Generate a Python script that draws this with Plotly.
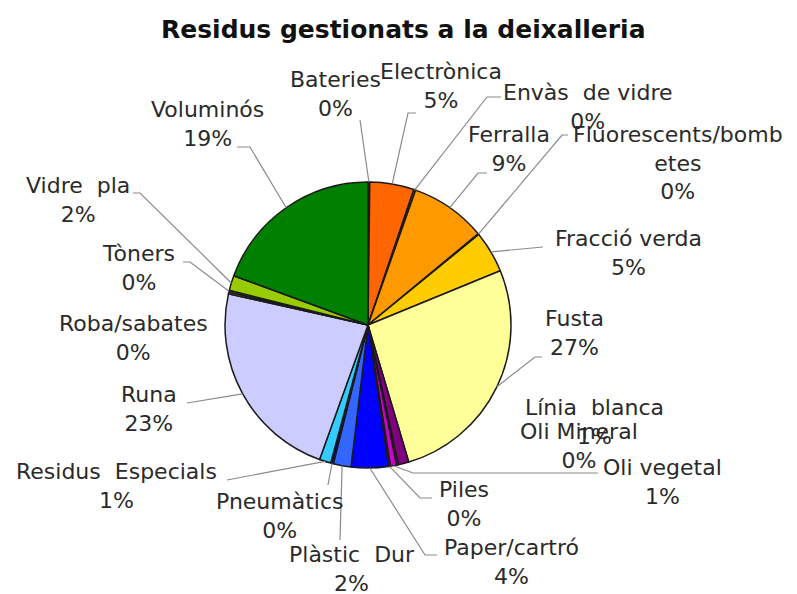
import math
import plotly.graph_objects as go

# ---- data ----
categories = ["Bateries", "Electrònica", "Envàs de vidre", "Ferralla",
              "Fluorescents/bombetes", "Fracció verda", "Fusta", "Línia blanca",
              "Oli Mineral", "Oli vegetal", "Piles", "Paper/cartró", "Plàstic Dur",
              "Pneumàtics", "Residus Especials", "Runa", "Roba/sabates", "Tòners",
              "Vidre pla", "Voluminós"]
values = [0.2, 5.0, 0.2, 8.6, 0.1, 4.7, 26.6, 1.2, 0.2, 0.7, 0.2, 4.2, 2.0,
          0.3, 1.3, 23.0, 0.2, 0.2, 1.7, 19.4]
display_names = ["Bateries", "Electrònica", "Envàs\u00a0 de vidre", "Ferralla",
                 "Fluorescents/bomb<br>etes", "Fracció verda", "Fusta",
                 "Línia\u00a0 blanca", "Oli Mineral", "Oli vegetal", "Piles",
                 "Paper/cartró", "Plàstic\u00a0 Dur", "Pneumàtics",
                 "Residus\u00a0 Especials", "Runa", "Roba/sabates", "Tòners",
                 "Vidre\u00a0 pla", "Voluminós"]
title_text = "Residus gestionats a la deixalleria"

# ---- styles / layout ----
colors = ["#CC6600", "#FF6600", "#FF8000", "#FF9900", "#FFB000", "#FFCC00",
          "#FFFF99", "#800080", "#993366", "#CC00CC", "#333399", "#0000FF",
          "#3366FF", "#000080", "#33CCFF", "#CCCCFF", "#E0E0FF", "#B0D000",
          "#99CC00", "#008000"]

W, H = 797, 594
OFF = 8  # page body margin of the html page
CX, CY, R = 368, 325, 143  # pie centre / radius in screenshot pixels

# label block centres (screenshot pixels)
label_pos = [(335, 94), (441, 86), (587, 107), (509, 149), (678, 163),
             (628, 253), (574, 333), (594, 422), (579, 446), (662, 482),
             (464, 504), (511, 562), (352, 569), (280, 516), (117, 486),
             (149, 409), (133, 338), (138, 268), (78, 200), (207, 124)]
# leader line points after the slice edge (screenshot pixels); None = no leader
leader_pts = [[(360, 120)],
              [(408, 113), (416, 113)],
              [(487, 97), (501, 97)],
              [(478, 173), (487, 173)],
              [(562, 135), (568, 135)],
              [(543, 247)],
              [(535, 357), (542, 357)],
              None,
              None,
              [(413, 473), (598, 473)],
              [(420, 498), (432, 498)],
              [(425, 555), (437, 555)],
              [(340, 540)],
              [(328, 485)],
              [(227, 480)],
              [(187, 403)],
              None,
              [(190, 262), (183, 262)],
              [(140, 193), (133, 193)],
              [(250, 147), (237, 147)]]


def px(x):
    return (x - OFF) / W


def py(y):
    return 1 - (y - OFF) / H


fig = go.Figure()
fig.add_trace(go.Pie(
    labels=categories, values=values, sort=False, direction="clockwise",
    rotation=0, textinfo="none", hoverinfo="label+percent",
    marker=dict(colors=colors, line=dict(color="#1a1a1a", width=1.5)),
    domain=dict(x=[px(CX - R), px(CX + R)], y=[py(CY + R), py(CY - R)]),
    showlegend=False,
))

total = sum(values)
annotations = []
shapes = []
cum = 0.0
for i, v in enumerate(values):
    mid = (cum + v / 2) / total
    cum += v
    theta = 2 * math.pi * mid
    ex = CX + R * math.sin(theta)
    ey = CY - R * math.cos(theta)
    pct = int(math.floor(v / total * 100 + 0.5))
    lx, ly = label_pos[i]
    annotations.append(dict(
        x=px(lx), y=py(ly), xref="paper", yref="paper",
        text=f"{display_names[i]}<br>{pct}%", showarrow=False,
        xanchor="center", yanchor="middle", align="center",
        font=dict(family="DejaVu Sans", size=22, color="#2a2a2a")))
    if leader_pts[i]:
        pts = [(ex, ey)] + leader_pts[i]
        path = "M " + " L ".join(f"{px(a):.5f},{py(b):.5f}" for a, b in pts)
        shapes.append(dict(type="path", xref="paper", yref="paper", path=path,
                           line=dict(color="#8a8a8a", width=1.2)))

annotations.append(dict(
    x=px(403), y=py(30), xref="paper", yref="paper", text=title_text,
    showarrow=False, xanchor="center", yanchor="middle",
    font=dict(family="DejaVu Sans", size=25, color="#111111", weight="bold")))

fig.update_layout(
    width=W, height=H, margin=dict(l=0, r=0, t=0, b=0),
    paper_bgcolor="white", plot_bgcolor="white",
    annotations=annotations, shapes=shapes, showlegend=False,
)

fig.write_html("out.html")
